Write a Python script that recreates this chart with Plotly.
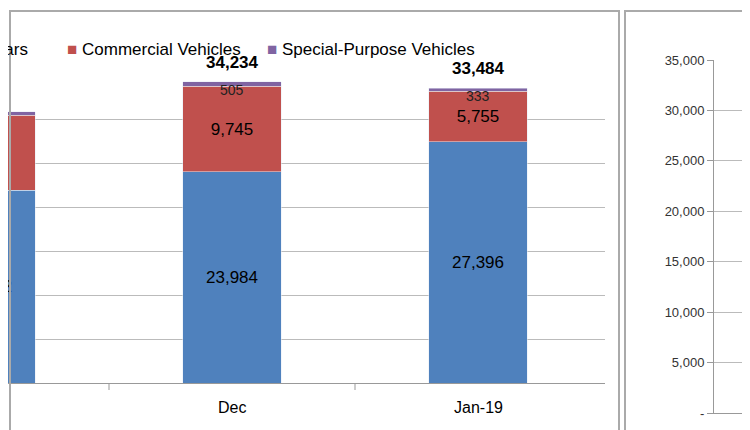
import plotly.graph_objects as go

categories = ["Nov-18", "Dec", "Jan-19"]
passenger = [21932, 23984, 27396]
commercial = [8514, 9745, 5755]
special = [366, 505, 333]
totals = [a + b + c for a, b, c in zip(passenger, commercial, special)]

ytd_cat = ["Jan-19"]
ytd_passenger = [18450]
ytd_commercial = [7740]
ytd_special = [300]
ytd_ticks = [0, 5000, 10000, 15000, 20000, 25000, 30000, 35000]
ytd_ticktext = ["-", "5,000", "10,000", "15,000", "20,000", "25,000", "30,000", "35,000"]

BLUE, RED, PURPLE = "#4F81BD", "#C0504D", "#8064A2"
FONT = "Liberation Sans"

fig = go.Figure()
xi = list(range(len(categories)))
fig.add_bar(x=xi, y=passenger, marker_color=BLUE, width=0.4,
            text=[f"{v:,}" for v in passenger], textposition="inside",
            insidetextanchor="middle", textfont=dict(size=17, color="black"))
fig.add_bar(x=xi, y=commercial, marker_color=RED, width=0.4,
            text=[f"{v:,}" for v in commercial], textposition="inside",
            insidetextanchor="middle", textfont=dict(size=17, color="black"))
fig.add_bar(x=xi, y=special, marker_color=PURPLE, width=0.4)

fig.add_bar(x=[0], y=ytd_passenger, marker_color=BLUE, width=0.6, xaxis="x2", yaxis="y2")
fig.add_bar(x=[0], y=ytd_commercial, marker_color=RED, width=0.6, xaxis="x2", yaxis="y2")
fig.add_bar(x=[0], y=ytd_special, marker_color=PURPLE, width=0.6, xaxis="x2", yaxis="y2")

ann = []
for i, (t, s) in enumerate(zip(totals, special)):
    ann.append(dict(x=i, y=t, xref="x", yref="y", text=f"<b>{t:,}</b>", showarrow=False,
                    yanchor="bottom", yshift=8, font=dict(size=17, color="black")))
    ann.append(dict(x=i, y=t, xref="x", yref="y", text=f"{s:,}", showarrow=False,
                    yanchor="top", yshift=2, font=dict(size=14, color="#222")))
    ann.append(dict(x=i, y=0, xref="x", yref="y", text=categories[i], showarrow=False,
                    yanchor="top", yshift=-14, font=dict(size=16, color="black")))
ann += [
    dict(x=22/750, y=1-30/430, xref="paper", yref="paper", xanchor="right",
         text=f"<span style='color:{BLUE}'>■</span> Passenger Cars", showarrow=False,
         font=dict(size=17, color="black")),
    dict(x=57/750, y=1-30/430, xref="paper", yref="paper", xanchor="left",
         text=f"<span style='color:{RED}'>■</span> Commercial Vehicles", showarrow=False,
         font=dict(size=17, color="black")),
    dict(x=257/750, y=1-30/430, xref="paper", yref="paper", xanchor="left",
         text=f"<span style='color:{PURPLE}'>■</span> Special-Purpose Vehicles", showarrow=False,
         font=dict(size=17, color="black")),
    dict(x=734/750, y=1-25/430, xref="paper", yref="paper", xanchor="left",
         text="YTD 2019", showarrow=False, font=dict(size=15, color="black")),
]

fig.update_layout(
    width=750, height=430, margin=dict(l=0, r=0, t=0, b=0, autoexpand=False),
    barmode="stack", showlegend=False, paper_bgcolor="white", plot_bgcolor="white",
    font=dict(family=FONT, color="black"),
    xaxis=dict(domain=[0, 597/750], range=[1-224/246, 1+(597-224)/246], automargin=False,
               tickvals=[1, 2], ticktext=["", ""], showgrid=False,
               showline=True, linecolor="#999", ticks="", zeroline=False),
    yaxis=dict(domain=[1-375/430, 1-67/430], range=[0, 35000], dtick=5000, automargin=False,
               showgrid=True, gridcolor="#bbb", showticklabels=False, zeroline=False),
    xaxis2=dict(domain=[706/750, 1], range=[-0.3-43/150, -0.3+1/150], anchor="y2",
                automargin=False, showticklabels=False, showgrid=False, showline=True,
                linecolor="#999", zeroline=False),
    yaxis2=dict(domain=[1-405/430, 1-52/430], range=[0, 35000], anchor="x2", automargin=False,
                tickvals=ytd_ticks, ticktext=ytd_ticktext, ticks="outside", ticklen=6,
                tickcolor="#999", showgrid=True, gridcolor="#bbb", showline=True,
                linecolor="#999", zeroline=False, tickfont=dict(size=13, color="#333")),
    annotations=ann,
    shapes=[
        dict(type="rect", xref="paper", yref="paper", x0=2/750, x1=611/750,
             y0=1-423/430, y1=1-3/430, line=dict(color="#aaa", width=2)),
        dict(type="rect", xref="paper", yref="paper", x0=617/750, x1=1.01,
             y0=1-423/430, y1=1-3/430, line=dict(color="#aaa", width=2)),
        dict(type="line", xref="x", yref="paper", x0=0.5, x1=0.5,
             y0=1-375/430, y1=1-382/430, line=dict(color="#999", width=1)),
        dict(type="line", xref="x", yref="paper", x0=1.5, x1=1.5,
             y0=1-375/430, y1=1-382/430, line=dict(color="#999", width=1)),
    ],
)
fig.write_html("out.html")
